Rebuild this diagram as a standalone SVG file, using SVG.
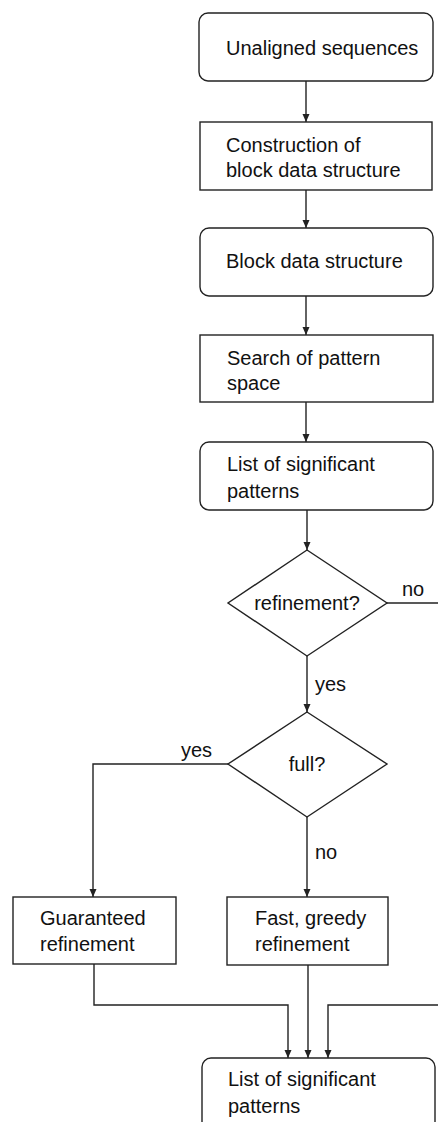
<svg xmlns="http://www.w3.org/2000/svg" width="438" height="1122" viewBox="0 0 438 1122">
<style>
.box{fill:#fff;stroke:#222;stroke-width:1.4}
.t{font-family:"Liberation Sans",Arial,sans-serif;font-size:20px;fill:#111}
.c{text-anchor:middle}
.ln{fill:none;stroke:#222;stroke-width:1.4}
</style>
<defs>
<marker id="ar" markerWidth="8" markerHeight="10" refX="8" refY="5" orient="auto" markerUnits="userSpaceOnUse">
<path d="M0,1.5 L8,5 L0,8.5 Z" fill="#222"/>
</marker>
</defs>
<rect width="438" height="1122" fill="#fff"/>
<g id="connectors">
<line class="ln" x1="306" y1="81" x2="306" y2="122" marker-end="url(#ar)"/>
<line class="ln" x1="306" y1="190" x2="306" y2="228" marker-end="url(#ar)"/>
<line class="ln" x1="306" y1="296" x2="306" y2="335" marker-end="url(#ar)"/>
<line class="ln" x1="306" y1="402" x2="306" y2="442" marker-end="url(#ar)"/>
<line class="ln" x1="307" y1="510" x2="307" y2="550" marker-end="url(#ar)"/>
<line class="ln" x1="387" y1="603" x2="438" y2="603"/>
<line class="ln" x1="307" y1="656" x2="307" y2="712" marker-end="url(#ar)"/>
<polyline class="ln" points="228,764 93,764 93,897" marker-end="url(#ar)"/>
<line class="ln" x1="307" y1="817" x2="307" y2="897" marker-end="url(#ar)"/>
<polyline class="ln" points="94,964 94,1005 288,1005 288,1058" marker-end="url(#ar)"/>
<line class="ln" x1="308" y1="965" x2="308" y2="1058" marker-end="url(#ar)"/>
<polyline class="ln" points="438,1005 328,1005 328,1058" marker-end="url(#ar)"/>
<text class="t" x="402" y="596">no</text>
<text class="t" x="315" y="691">yes</text>
<text class="t" x="181" y="757">yes</text>
<text class="t" x="315" y="859">no</text>
</g>
<g id="n1">
<rect class="box" x="199" y="13" width="234" height="68" rx="9"/>
<text class="t" x="226" y="55">Unaligned sequences</text>
</g>
<g id="n2">
<rect class="box" x="200" y="122" width="232" height="68"/>
<text class="t" x="226" y="152">Construction of</text>
<text class="t" x="226" y="177">block data structure</text>
</g>
<g id="n3">
<rect class="box" x="200" y="228" width="233" height="68" rx="9"/>
<text class="t" x="226" y="268">Block data structure</text>
</g>
<g id="n4">
<rect class="box" x="200" y="335" width="233" height="67"/>
<text class="t" x="227" y="365">Search of pattern</text>
<text class="t" x="227" y="390">space</text>
</g>
<g id="n5">
<rect class="box" x="200" y="442" width="233" height="68" rx="9"/>
<text class="t" x="227" y="471">List of significant</text>
<text class="t" x="227" y="498">patterns</text>
</g>
<g id="d1">
<polygon class="box" points="307,550 387,603 307,656 228,603"/>
<text class="t c" x="307" y="610">refinement?</text>
</g>
<g id="d2">
<polygon class="box" points="307,712 387,764 307,817 228,764"/>
<text class="t c" x="307" y="771">full?</text>
</g>
<g id="n6">
<rect class="box" x="13" y="897" width="163" height="67"/>
<text class="t" x="40" y="925">Guaranteed</text>
<text class="t" x="40" y="951">refinement</text>
</g>
<g id="n7">
<rect class="box" x="227" y="897" width="161" height="68"/>
<text class="t" x="255" y="925">Fast, greedy</text>
<text class="t" x="255" y="951">refinement</text>
</g>
<g id="n8">
<rect class="box" x="202" y="1058" width="233" height="80" rx="9"/>
<text class="t" x="228" y="1086">List of significant</text>
<text class="t" x="228" y="1113">patterns</text>
</g>
</svg>
